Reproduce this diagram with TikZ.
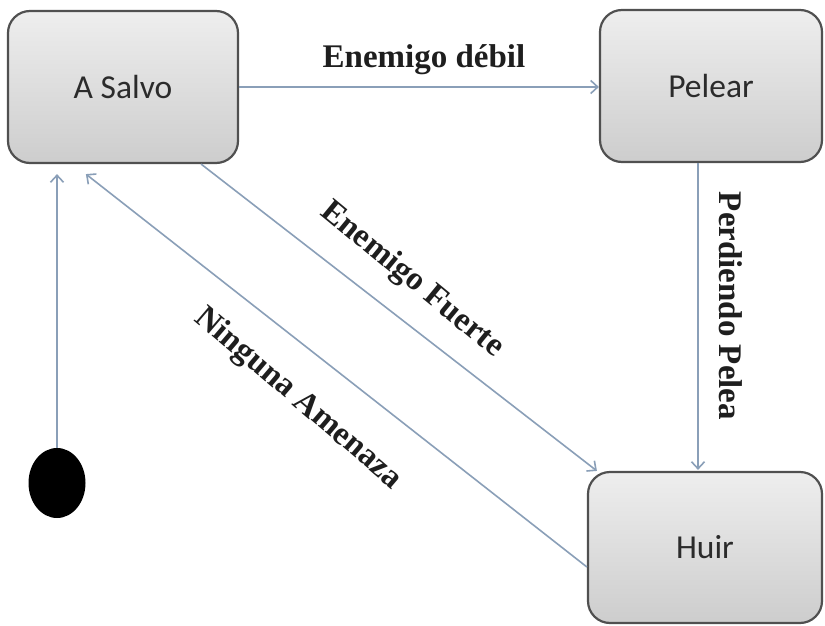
\documentclass[tikz,border=0pt]{standalone}
\usepackage{fontspec}
\setmainfont{Liberation Serif}
\newfontfamily\statefont{Carlito}
\usetikzlibrary{arrows.meta,calc,shapes.geometric}
\definecolor{edgeblue}{HTML}{8A9FB8}
\definecolor{boxline}{HTML}{505050}
\definecolor{boxtop}{HTML}{EEEEEE}
\definecolor{boxbottom}{HTML}{CDCDCD}
\definecolor{statetext}{HTML}{2B2B2B}
\definecolor{labeltext}{HTML}{1E1E1E}
\begin{document}
\begin{tikzpicture}[x=1pt,y=-1pt,
  state/.style={draw=boxline, line width=2.2pt, rounded corners=22pt,
    top color=boxtop, bottom color=boxbottom, text=statetext,
    font=\statefont\fontsize{33.5}{38}\selectfont, inner sep=0pt},
  transition/.style={draw=edgeblue, line width=1.6pt,
    -{Straight Barb[length=7pt,width=13pt]}},
  trlabel/.style={font=\bfseries\fontsize{33}{38}\selectfont,
    text=labeltext, inner sep=0pt}]
\useasboundingbox (0,0) rectangle (825,626);
\fill[white] (0,0) rectangle (825,626);

% states
\node[state, minimum width=230pt, minimum height=152pt] (asalvo) at (123,87) {A Salvo};
\node[state, minimum width=222pt, minimum height=152pt] (pelear) at (711,86) {Pelear};
\node[state, minimum width=234pt, minimum height=151pt] (huir) at (705,547.5) {Huir};
\node[ellipse, fill=black, minimum width=57pt, minimum height=70pt, inner sep=0pt] (init) at (57,483) {};

% connector end points on the state borders
\coordinate (fuerteA) at ($(asalvo.south east)+(-38,0)$);
\coordinate (fuerteB) at ($(huir.north west)+(10,0)$);
\coordinate (ningunaA) at ($(huir.west)+(0,19.5)$);
\coordinate (ningunaB) at ($(asalvo.south west)+(79,10)$);
\coordinate (perdA) at ($(pelear.south)+(-13,0)$);

% transitions
\draw[transition, shorten >=10pt] (init.north) -- (init.north |- asalvo.south);
\draw[transition] (asalvo.east) -- (asalvo.east -| pelear.west);
\draw[transition, shorten >=1pt] (perdA) -- (perdA |- huir.north);
\draw[transition] (fuerteA) -- (fuerteB);
\draw[transition] (ningunaA) -- (ningunaB);

% transition labels
\node[trlabel, anchor=base] (ldebil) at (424,67) {Enemigo débil};
\node[trlabel, rotate=-39.5] (lfuerte) at (412,280) {Enemigo Fuerte};
\node[trlabel, rotate=-40.5] (lninguna) at (298,399) {Ninguna Amenaza};
\node[trlabel, rotate=-90] (lperd) at (731,306) {Perdiendo Pelea};
\end{tikzpicture}
\end{document}
